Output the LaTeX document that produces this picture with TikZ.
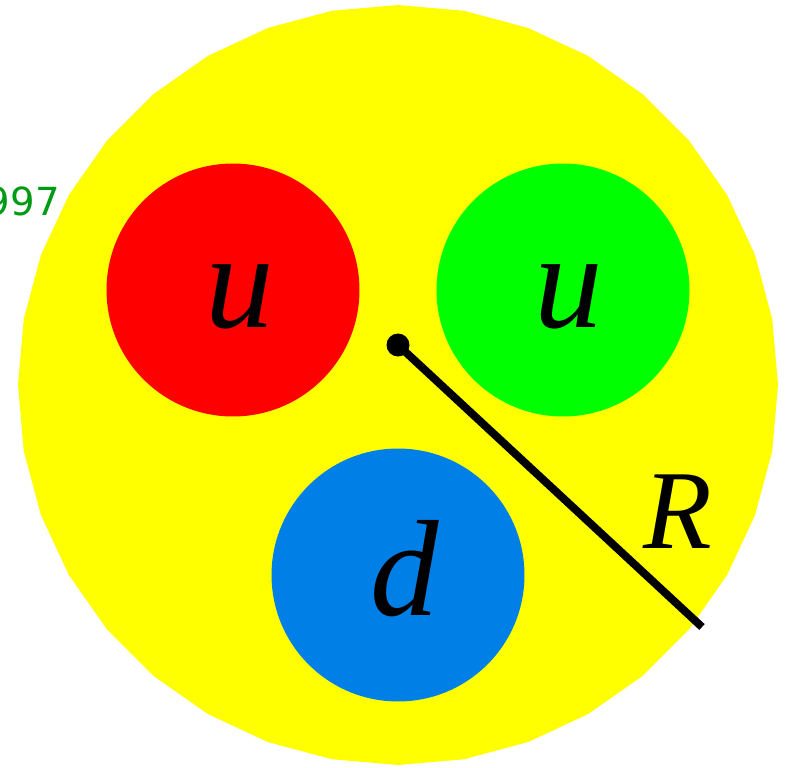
\documentclass[tikz,border=0pt]{standalone}
\usepackage{fontspec}
\setmainfont{Liberation Serif}
\newfontfamily\labelsans{DejaVu Sans}
\usetikzlibrary{positioning, calc}
\definecolor{bagyellow}{RGB}{255,255,0}
\definecolor{quarkred}{RGB}{255,0,0}
\definecolor{quarkgreen}{RGB}{0,255,0}
\definecolor{quarkblue}{RGB}{0,128,230}
\definecolor{yeargreen}{RGB}{0,155,20}

\begin{document}
\begin{tikzpicture}[
    x=0.02cm, y=-0.02cm,
    quark/.style={circle, inner sep=0pt, minimum size=5.06cm},
    flavour/.style={anchor=base, inner sep=0pt,
      font=\itshape\fontsize{78pt}{80pt}\selectfont},
    radiusline/.style={line width=4.5pt}
  ]

  % page frame
  \useasboundingbox (0,0) rectangle (785,768);

  % ============================================================
  %  Bag: 36-sided polygon
  % ============================================================
  \coordinate (bagCentre) at (398,385);
  \fill[bagyellow] (398,5)
    \foreach \a in {10,20,...,350} { -- ({398+380*sin(\a)}, {385-380*cos(\a)}) }
    -- cycle;

  % cut-off year label
  \node[anchor=base east, inner sep=0pt, text=yeargreen,
        font=\labelsans\fontsize{22pt}{24pt}\selectfont]
    (year) at (60,215) {997};

  % ============================================================
  %  Quarks
  % ============================================================
  \node[quark, fill=quarkred]   (redQuark)   at (233,290) {};
  \node[quark, fill=quarkgreen] (greenQuark) at (563,290) {};
  \node[quark, fill=quarkblue]  (blueQuark)  at (398,575) {};

  \node[flavour] (redLabel)   at (240,327) {u};
  \node[flavour] (greenLabel) at (569,327) {u};
  \node[flavour] (blueLabel)  at (405,615) {d};

  % ============================================================
  %  Radius
  % ============================================================
  \node[circle, fill=black, inner sep=0pt, minimum size=0.46cm]
    (centreDot) at (398,345) {};
  \coordinate (rimEnd) at (702,627);
  \draw[radiusline] (centreDot.center) -- (rimEnd);

  \node[anchor=base, inner sep=0pt,
        font=\itshape\fontsize{64pt}{66pt}\selectfont]
    (radiusLabel) at (678,548) {R};

\end{tikzpicture}
\end{document}
